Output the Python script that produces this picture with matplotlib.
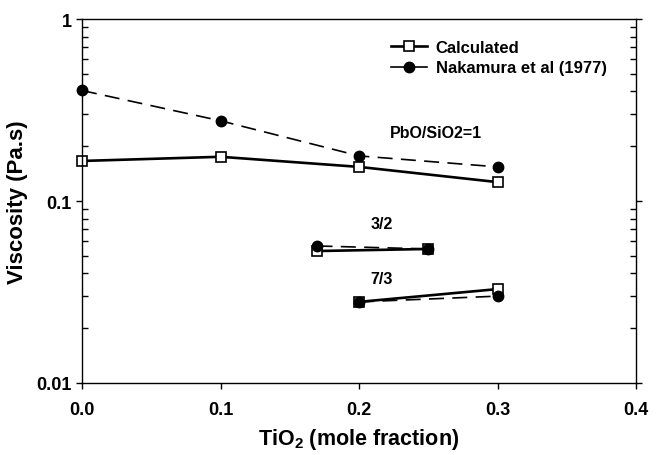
import matplotlib
matplotlib.use("Agg")
import matplotlib.pyplot as plt
from matplotlib.ticker import FixedLocator, LogLocator, NullFormatter, FuncFormatter

plt.rcParams['font.family'] = ['Liberation Sans', 'DejaVu Sans']
plt.rcParams['font.weight'] = 'bold'
plt.rcParams['mathtext.fontset'] = 'custom'
plt.rcParams['mathtext.rm'] = 'Liberation Sans:bold'
plt.rcParams['mathtext.it'] = 'Liberation Sans:bold'
plt.rcParams['mathtext.bf'] = 'Liberation Sans:bold'
plt.rcParams['mathtext.default'] = 'rm'

# --- datos ---
# PbO/SiO2 = 1
x_1 = [0.0, 0.1, 0.2, 0.3]
calc_1 = [0.166, 0.175, 0.154, 0.127]
exp_1 = [0.405, 0.276, 0.177, 0.154]

# PbO/SiO2 = 3/2
x_32 = [0.17, 0.25]
calc_32 = [0.0531, 0.0545]
exp_32 = [0.0566, 0.0545]

# PbO/SiO2 = 7/3
x_73 = [0.2, 0.3]
calc_73 = [0.0279, 0.0328]
exp_73 = [0.0279, 0.0300]

xticks = [0.0, 0.1, 0.2, 0.3, 0.4]
yticks = [0.01, 0.1, 1]

fig = plt.figure(figsize=(6.64, 4.56), dpi=100)
ax = fig.add_axes([0.1235, 0.158, 0.8345, 0.798])

calc_style = dict(color='black', lw=1.9, marker='s', ms=7, mfc='white', mec='black', mew=1.2, clip_on=False)
exp_style = dict(color='black', lw=1.2, ls=(0, (9, 5)), marker='o', ms=7.5, mfc='black', mec='black', clip_on=False)

ax.plot(x_1, exp_1, **exp_style)
ax.plot(x_1, calc_1, label='Calculated', **calc_style)
ax.plot(x_32, calc_32, **calc_style)
ax.plot(x_32, exp_32, **exp_style)
ax.plot(x_73, calc_73, **calc_style)
ax.plot(x_73, exp_73, **exp_style)

# la leyenda muestra la serie experimental con linea continua
ax.plot([], [], color='black', lw=1.2, marker='o', ms=7.5, label='Nakamura et al (1977)')

ax.set_yscale('log')
ax.set_xlim(0, 0.4)
ax.set_ylim(0.01, 1)

ax.xaxis.set_major_locator(FixedLocator(xticks))
ax.xaxis.set_major_formatter(FuncFormatter(lambda v, p: f"{v:.1f}"))
ax.yaxis.set_major_locator(FixedLocator(yticks))
ax.yaxis.set_major_formatter(FuncFormatter(lambda v, p: f"{v:g}"))
ax.yaxis.set_minor_locator(LogLocator(base=10, subs=range(2, 10)))
ax.yaxis.set_minor_formatter(NullFormatter())

ax.tick_params(axis='x', which='major', direction='out', length=4, width=1, labelsize=13, pad=9)
ax.tick_params(axis='y', which='major', direction='out', length=4, width=1, labelsize=13, right=True)
ax.tick_params(axis='y', which='minor', direction='in', length=4, width=1, right=True)
for lab in ax.get_xticklabels() + ax.get_yticklabels():
    lab.set_fontweight('bold')
for s in ax.spines.values():
    s.set_linewidth(1.0)

ax.set_xlabel('TiO$_2$ (mole fraction)', fontsize=15.5, fontweight='bold', labelpad=6)
ax.set_ylabel('Viscosity (Pa.s)', fontsize=16, fontweight='bold', labelpad=6)

ax.text(0.2556, 0.239, 'PbO/SiO2=1', fontsize=11.5, fontweight='bold', ha='center', va='center')
ax.text(0.2166, 0.0748, '3/2', fontsize=11.5, fontweight='bold', ha='center', va='center')
ax.text(0.2166, 0.0375, '7/3', fontsize=11.5, fontweight='bold', ha='center', va='center')

ax.legend(loc='upper left', bbox_to_anchor=(0.53, 0.985), frameon=False,
          handlelength=2.2, handletextpad=0.5, labelspacing=0.35,
          prop={'weight': 'bold', 'size': 12})

fig.savefig('out.png', dpi=100)
